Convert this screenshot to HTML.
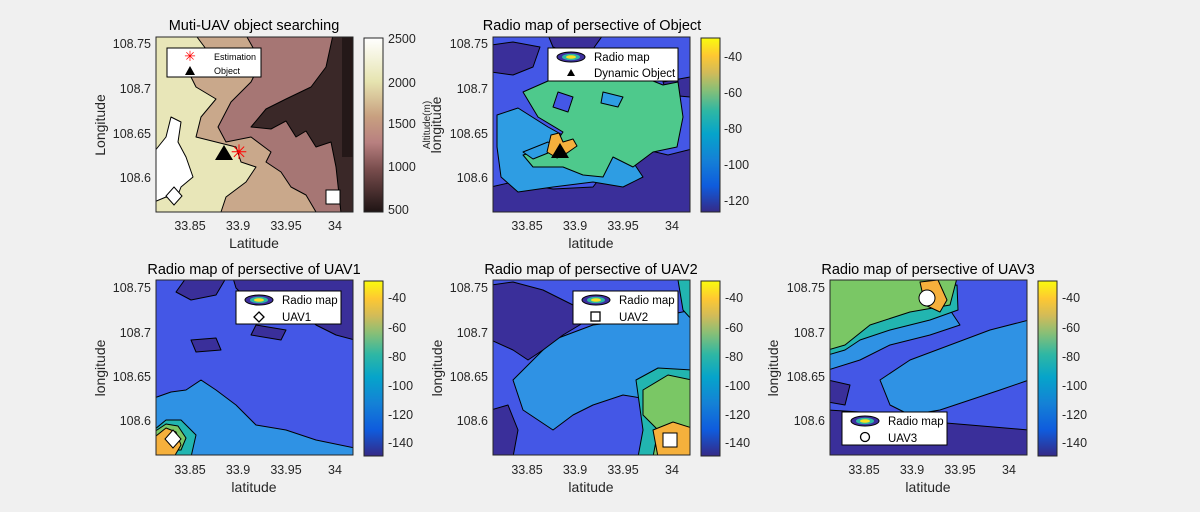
<!DOCTYPE html>
<html><head><meta charset="utf-8"><style>
html,body{margin:0;padding:0;background:#f0f0f0;}
svg{display:block;font-family:"Liberation Sans",sans-serif;}
.t{font-size:14.5px;fill:#000;text-anchor:middle}
.tk{font-size:12.5px;fill:#262626}
.lb{font-size:14px;fill:#262626;text-anchor:middle}
.c path,.c polygon{stroke:#000;stroke-width:1;stroke-linejoin:round}
.lg{font-size:11.5px;fill:#000}
</style></head><body>
<svg width="1200" height="512" viewBox="0 0 1200 512">
<defs>
<linearGradient id="par" x1="0" y1="1" x2="0" y2="0">
<stop offset="0" stop-color="#352a87"/><stop offset="0.15" stop-color="#0f5cdd"/><stop offset="0.3" stop-color="#1481d6"/><stop offset="0.45" stop-color="#06a4ca"/><stop offset="0.58" stop-color="#2eb7a4"/><stop offset="0.7" stop-color="#87bf77"/><stop offset="0.8" stop-color="#d1bb59"/><stop offset="0.9" stop-color="#fec832"/><stop offset="1" stop-color="#f9fb0e"/>
</linearGradient>
<linearGradient id="ter" x1="0" y1="1" x2="0" y2="0">
<stop offset="0" stop-color="#1e1414"/><stop offset="0.25" stop-color="#7a4e4e"/><stop offset="0.4" stop-color="#b88080"/><stop offset="0.55" stop-color="#c8a080"/><stop offset="0.75" stop-color="#e6e4b0"/><stop offset="1" stop-color="#ffffff"/>
</linearGradient>
<clipPath id="cp"><rect x="0" y="0" width="197" height="175"/></clipPath>
<g id="rm"><ellipse cx="0" cy="0" rx="14" ry="5" fill="#3d2f9e" stroke="#000"/><ellipse cx="0" cy="0" rx="9" ry="3.2" fill="#2eb7a4"/><ellipse cx="0" cy="0" rx="5" ry="1.8" fill="#f9e020"/></g>
</defs>

<!-- Plot 1 terrain -->
<g transform="translate(156,37)">
<g clip-path="url(#cp)" class="c">
<rect width="197" height="175" fill="#a67674"/>
<polygon fill="#c9a88b" points="91,0 105,25 95,45 75,65 62,90 70,105 95,100 115,115 110,125 125,135 135,150 150,158 160,175 -5,175 -5,0"/>
<polygon fill="#e8e6b8" points="41,0 50,12 30,30 40,50 60,62 45,80 40,100 60,105 80,110 85,125 100,130 90,145 70,160 65,175 -5,175 -5,0"/>
<polygon fill="#ffffff" points="-2,115 10,100 15,80 25,85 22,105 30,120 37,140 25,150 20,163 10,160 -2,165"/>
<polygon fill="#3a2828" points="177,-2 170,30 155,50 130,62 110,72 95,90 115,92 130,84 140,100 150,94 160,110 175,105 180,130 185,176 200,176 200,-2"/>
<rect x="186" y="0" width="11" height="120" fill="#241818" stroke="none"/>
</g>
<rect width="197" height="175" fill="none" stroke="#262626"/>
<rect x="11" y="11" width="94" height="29" fill="#fff" stroke="#000"/>
<text x="34" y="24" font-size="14" fill="#f00" text-anchor="middle">✳</text>
<polygon points="29,39 34,30 39,39" fill="#000" transform="translate(0,-1)"/>
<text x="58" y="23" font-size="9" fill="#000">Estimation</text>
<text x="58" y="37" font-size="9" fill="#000">Object</text>
<polygon points="59,123 68,108 77,123" fill="#000"/>
<text x="83" y="122" font-size="20" fill="#f00" text-anchor="middle">✳</text>
<polygon points="18,150 26,159 18,168 10,159" fill="#fff" stroke="#000"/>
<rect x="170" y="153" width="14" height="14" fill="#fff" stroke="#000"/>
</g>
<text class="t" x="254" y="30">Muti-UAV object searching</text>
<text class="lb" x="254" y="248">Latitude</text>
<text class="lb" transform="translate(105,125) rotate(-90)">Longitude</text>
<g class="tk" text-anchor="middle"><text x="190" y="230">33.85</text><text x="238" y="230">33.9</text><text x="286" y="230">33.95</text><text x="335" y="230">34</text></g>
<g class="tk" text-anchor="end"><text x="151" y="48">108.75</text><text x="151" y="93">108.7</text><text x="151" y="138">108.65</text><text x="151" y="182">108.6</text></g>
<rect x="364" y="38" width="19" height="174" fill="url(#ter)" stroke="#262626"/>
<g class="tk"><text x="388" y="43">2500</text><text x="388" y="87">2000</text><text x="388" y="128">1500</text><text x="388" y="171">1000</text><text x="388" y="214">500</text></g>

<!-- Plot 2 object -->
<g transform="translate(493,37)">
<g clip-path="url(#cp)" class="c">
<rect width="197" height="175" fill="#4457e6"/>
<polygon fill="#3a2f9a" points="-2,8 20,5 47,10 40,30 20,38 -2,35"/>
<polygon fill="#3a2f9a" points="55,-2 110,-2 100,12 80,18 60,10"/>
<polygon fill="#3a2f9a" points="-2,150 20,145 60,152 100,150 123,120 150,112 175,118 199,112 199,177 -2,177"/>
<polygon fill="#3a2f9a" points="170,45 197,40 197,60 175,58"/>
<polygon fill="#2e9de3" points="4,78 25,71 55,90 100,115 140,125 150,140 130,150 100,145 60,150 25,155 8,140 4,110"/>
<polygon fill="#4ec98c" points="30,55 55,44 90,42 120,38 150,40 170,48 185,45 190,80 184,110 160,115 140,130 120,120 110,140 90,138 70,130 40,130 30,118 60,110 70,95 45,80"/>
<polygon fill="#4457e6" points="65,55 80,60 75,75 60,70"/>
<polygon fill="#2e9de3" points="110,55 130,60 125,70 108,66"/>
<polygon fill="#2e9de3" points="30,115 55,105 65,112 40,122"/>
<polygon fill="#f5b03c" points="58,98 66,96 70,105 80,102 84,109 74,116 64,121 54,115"/>
</g>
<rect width="197" height="175" fill="none" stroke="#262626"/>
<rect x="55" y="11" width="130" height="33" fill="#fff" stroke="#000"/>
<use href="#rm" x="78" y="20"/>
<polygon points="74,39 78,32 82,39" fill="#000"/>
<text class="lg" x="101" y="24">Radio map</text>
<text class="lg" x="101" y="40">Dynamic Object</text>
<polygon points="58,121 67,106 76,121" fill="#000"/>
</g>
<text class="t" x="592" y="30">Radio map of persective of Object</text>
<text class="lb" x="591" y="248">latitude</text>
<text class="lb" transform="translate(441,125) rotate(-90)">longitude</text>
<text transform="translate(430,125) rotate(-90)" font-size="10" fill="#262626" text-anchor="middle">Altitude(m)</text>
<g class="tk" text-anchor="middle"><text x="527" y="230">33.85</text><text x="575" y="230">33.9</text><text x="623" y="230">33.95</text><text x="672" y="230">34</text></g>
<g class="tk" text-anchor="end"><text x="488" y="48">108.75</text><text x="488" y="93">108.7</text><text x="488" y="138">108.65</text><text x="488" y="182">108.6</text></g>
<rect x="701" y="38" width="19" height="174" fill="url(#par)" stroke="#262626"/>
<g class="tk"><text x="724" y="61">-40</text><text x="724" y="97">-60</text><text x="724" y="133">-80</text><text x="724" y="169">-100</text><text x="724" y="205">-120</text></g>

<!-- UAV1 -->
<g transform="translate(156,280)">
<g clip-path="url(#cp)" class="c">
<rect width="197" height="175" fill="#4457e6"/>
<polygon fill="#3a2f9a" points="77,-2 199,-2 199,60 180,55 160,45 140,30 110,20 90,18 80,8"/>
<polygon fill="#3a2f9a" points="30,-2 70,-2 60,15 35,20 20,12"/>
<polygon fill="#3a2f9a" points="100,45 130,50 125,60 95,55"/>
<polygon fill="#3a2f9a" points="35,60 60,58 65,70 40,72"/>
<polygon fill="#2f92e4" points="-2,118 15,112 30,110 45,100 60,110 80,125 100,145 130,150 160,160 199,168 199,177 -2,177"/>
<polygon fill="#22b5b0" points="-2,150 10,140 25,140 40,155 35,177 -2,177"/>
<polygon fill="#7ac765" points="-2,152 10,144 22,146 30,158 25,170 -2,170"/>
<polygon fill="#f5b03c" points="0,156 10,148 20,152 25,165 18,177 0,177"/>
</g>
<rect width="197" height="175" fill="none" stroke="#262626"/>
<rect x="80" y="11" width="105" height="33" fill="#fff" stroke="#000"/>
<use href="#rm" x="103" y="20"/>
<polygon points="103,32 108,37 103,42 98,37" fill="#fff" stroke="#000" stroke-width="1.3"/>
<text class="lg" x="126" y="24">Radio map</text>
<text class="lg" x="126" y="41">UAV1</text>
<polygon points="17,150 25,159 17,168 9,159" fill="#fff" stroke="#000"/>
</g>
<text class="t" x="254" y="274">Radio map of persective of UAV1</text>
<text class="lb" x="254" y="492">latitude</text>
<text class="lb" transform="translate(105,368) rotate(-90)">longitude</text>
<g class="tk" text-anchor="middle"><text x="190" y="474">33.85</text><text x="238" y="474">33.9</text><text x="286" y="474">33.95</text><text x="335" y="474">34</text></g>
<g class="tk" text-anchor="end"><text x="151" y="292">108.75</text><text x="151" y="337">108.7</text><text x="151" y="381">108.65</text><text x="151" y="425">108.6</text></g>
<rect x="364" y="281" width="19" height="175" fill="url(#par)" stroke="#262626"/>
<g class="tk"><text x="388" y="302">-40</text><text x="388" y="332">-60</text><text x="388" y="361">-80</text><text x="388" y="390">-100</text><text x="388" y="419">-120</text><text x="388" y="447">-140</text></g>

<!-- UAV2 -->
<g transform="translate(493,280)">
<g clip-path="url(#cp)" class="c">
<rect width="197" height="175" fill="#4457e6"/>
<polygon fill="#2f92e4" points="60,60 100,45 140,40 175,35 199,30 199,110 160,120 130,115 100,125 80,135 60,150 30,130 20,100 40,80"/>
<polygon fill="#3a2f9a" points="-2,5 20,2 50,10 80,25 95,40 70,55 50,70 35,80 20,70 -2,60"/>
<polygon fill="#3a2f9a" points="-2,130 15,125 25,150 20,177 -2,177"/>
<polygon fill="#22b5b0" points="185,0 199,-2 199,40 190,30"/>
<polygon fill="#22b5b0" points="143,100 165,88 199,90 199,177 145,177 150,150"/>
<polygon fill="#7ac765" points="150,110 175,95 199,100 199,177 160,177 165,150 150,135"/>
<polygon fill="#f5b03c" points="160,150 180,142 199,148 199,177 165,177"/>
</g>
<rect width="197" height="175" fill="none" stroke="#262626"/>
<rect x="80" y="11" width="105" height="33" fill="#fff" stroke="#000"/>
<use href="#rm" x="103" y="20"/>
<rect x="98" y="32" width="9" height="9" fill="#fff" stroke="#000" stroke-width="1.3"/>
<text class="lg" x="126" y="24">Radio map</text>
<text class="lg" x="126" y="41">UAV2</text>
<rect x="170" y="153" width="14" height="14" fill="#fff" stroke="#000"/>
</g>
<text class="t" x="591" y="274">Radio map of persective of UAV2</text>
<text class="lb" x="591" y="492">latitude</text>
<text class="lb" transform="translate(442,368) rotate(-90)">longitude</text>
<g class="tk" text-anchor="middle"><text x="527" y="474">33.85</text><text x="575" y="474">33.9</text><text x="623" y="474">33.95</text><text x="672" y="474">34</text></g>
<g class="tk" text-anchor="end"><text x="488" y="292">108.75</text><text x="488" y="337">108.7</text><text x="488" y="381">108.65</text><text x="488" y="425">108.6</text></g>
<rect x="701" y="281" width="19" height="175" fill="url(#par)" stroke="#262626"/>
<g class="tk"><text x="725" y="302">-40</text><text x="725" y="332">-60</text><text x="725" y="361">-80</text><text x="725" y="390">-100</text><text x="725" y="419">-120</text><text x="725" y="447">-140</text></g>

<!-- UAV3 -->
<g transform="translate(830,280)">
<g clip-path="url(#cp)" class="c">
<rect width="197" height="175" fill="#4457e6"/>
<polygon fill="#2f92e4" points="50,100 80,80 120,65 160,50 199,40 199,100 170,110 140,120 110,130 80,135 60,125"/>
<polygon fill="#2f92e4" points="-2,50 30,45 60,40 100,30 120,30 130,45 100,55 60,65 30,80 -2,90"/>
<polygon fill="#22b5b0" points="-2,20 40,15 90,10 127,5 128,30 100,40 60,50 30,60 15,70 -2,75"/>
<polygon fill="#7ac765" points="-2,-2 127,-2 120,25 80,32 40,45 15,65 -2,70"/>
<polygon fill="#f5b03c" points="90,2 108,0 117,20 110,32 95,25"/>
<polygon fill="#3a2f9a" points="-2,130 30,132 80,140 140,145 199,150 199,177 -2,177"/>
<polygon fill="#3a2f9a" points="-2,100 20,105 15,125 -2,122"/>
</g>
<rect width="197" height="175" fill="none" stroke="#262626"/>
<rect x="12" y="132" width="105" height="33" fill="#fff" stroke="#000"/>
<use href="#rm" x="35" y="141"/>
<circle cx="35" cy="157" r="4.5" fill="#fff" stroke="#000" stroke-width="1.3"/>
<text class="lg" x="58" y="145">Radio map</text>
<text class="lg" x="58" y="162">UAV3</text>
<circle cx="97" cy="18" r="8" fill="#fff" stroke="#000"/>
</g>
<text class="t" x="928" y="274">Radio map of persective of UAV3</text>
<text class="lb" x="928" y="492">latitude</text>
<text class="lb" transform="translate(778,368) rotate(-90)">longitude</text>
<g class="tk" text-anchor="middle"><text x="864" y="474">33.85</text><text x="912" y="474">33.9</text><text x="960" y="474">33.95</text><text x="1009" y="474">34</text></g>
<g class="tk" text-anchor="end"><text x="825" y="292">108.75</text><text x="825" y="337">108.7</text><text x="825" y="381">108.65</text><text x="825" y="425">108.6</text></g>
<rect x="1038" y="281" width="19" height="175" fill="url(#par)" stroke="#262626"/>
<g class="tk"><text x="1062" y="302">-40</text><text x="1062" y="332">-60</text><text x="1062" y="361">-80</text><text x="1062" y="390">-100</text><text x="1062" y="419">-120</text><text x="1062" y="447">-140</text></g>
</svg>
</body></html>
